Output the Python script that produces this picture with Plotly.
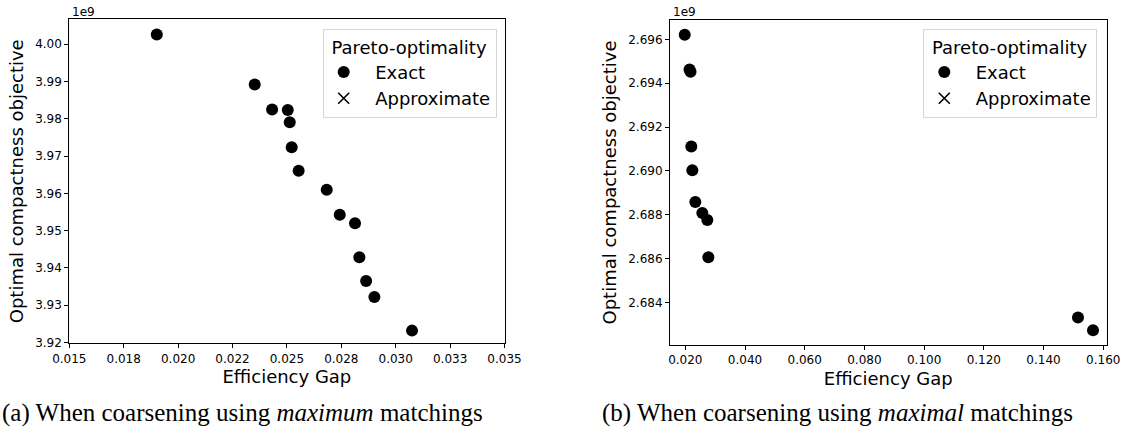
import plotly.graph_objects as go

# ---------------- data ----------------
# (a) maximum matchings
a_gap = [0.01902, 0.02352, 0.02432, 0.02504, 0.02513, 0.02522, 0.02554,
         0.02683, 0.02743, 0.02813, 0.02833, 0.02864, 0.02902, 0.03075]
a_obj = [4.0026e9, 3.9892e9, 3.9825e9, 3.9824e9, 3.9791e9, 3.9724e9, 3.9661e9,
         3.9610e9, 3.9543e9, 3.9520e9, 3.9429e9, 3.9365e9, 3.9322e9, 3.9232e9]
a_approx_gap = []
a_approx_obj = []

# (b) maximal matchings
b_gap = [0.01980, 0.02141, 0.02175, 0.02201, 0.02235, 0.02336, 0.02570,
         0.02738, 0.02772, 0.15155, 0.15658]
b_obj = [2.69621e9, 2.69462e9, 2.69452e9, 2.69112e9, 2.69003e9, 2.68859e9,
         2.68809e9, 2.68777e9, 2.68607e9, 2.68332e9, 2.68274e9]
b_approx_gap = []
b_approx_obj = []

a_xticks = [0.015, 0.0175, 0.020, 0.0225, 0.025, 0.0275, 0.030, 0.0325, 0.035]
a_xtext = ["0.015", "0.018", "0.020", "0.022", "0.025", "0.028", "0.030", "0.033", "0.035"]
a_yticks = [3.92e9, 3.93e9, 3.94e9, 3.95e9, 3.96e9, 3.97e9, 3.98e9, 3.99e9, 4.00e9]
a_ytext = ["3.92", "3.93", "3.94", "3.95", "3.96", "3.97", "3.98", "3.99", "4.00"]

b_xticks = [0.02, 0.04, 0.06, 0.08, 0.10, 0.12, 0.14, 0.16]
b_xtext = ["0.020", "0.040", "0.060", "0.080", "0.100", "0.120", "0.140", "0.160"]
b_yticks = [2.684e9, 2.686e9, 2.688e9, 2.690e9, 2.692e9, 2.694e9, 2.696e9]
b_ytext = ["2.684", "2.686", "2.688", "2.690", "2.692", "2.694", "2.696"]

legend_title = "Pareto-optimality"
series_names = ["Exact", "Approximate"]
captions = ["(a) When coarsening using <i>maximum</i> matchings",
            "(b) When coarsening using <i>maximal</i> matchings"]

# ---------------- figure ----------------
W, H = 1123, 429
SANS = "DejaVu Sans"
SERIF = "Liberation Serif"
NB = "\u00a0"

def px_x(p):
    return p / W

def px_y(p):
    return 1 - p / H

fig = go.Figure()

def add_panel(xs, ys, axs, ays, xa, ya, legend):
    fig.add_trace(go.Scatter(
        x=xs, y=ys, mode="markers", name=NB * 2 + series_names[0],
        xaxis=xa, yaxis=ya, legend=legend,
        marker=dict(symbol="circle", size=12, color="black", line=dict(width=0)),
    ))
    fig.add_trace(go.Scatter(
        x=axs if axs else [None], y=ays if ays else [None], mode="markers",
        name=NB * 2 + series_names[1], xaxis=xa, yaxis=ya, legend=legend,
        marker=dict(symbol="x-thin-open", size=11, color="black",
                    line=dict(width=1.6, color="black")),
    ))

add_panel(a_gap, a_obj, a_approx_gap, a_approx_obj, "x", "y", "legend")
add_panel(b_gap, b_obj, b_approx_gap, b_approx_obj, "x2", "y2", "legend2")

axis_common = dict(
    showgrid=False, zeroline=False, showline=True, linecolor="black",
    linewidth=1, mirror=True, ticks="outside", ticklen=4, tickwidth=1,
    tickcolor="black", tickfont=dict(family=SANS, size=12, color="black"),
    automargin=False, tickmode="array",
)

def legend_style(xpx, ypx):
    return dict(x=px_x(xpx), y=px_y(ypx), xanchor="right", yanchor="top",
                title=dict(text=NB + legend_title, side="top",
                           font=dict(family=SANS, size=18, color="black")),
                font=dict(family=SANS, size=18, color="black"),
                bgcolor="rgba(255,255,255,0.8)", bordercolor="#d6d6d6",
                borderwidth=1, itemsizing="trace")

fig.update_layout(
    width=W, height=H,
    margin=dict(l=0, r=0, t=0, b=0),
    paper_bgcolor="white", plot_bgcolor="white",
    xaxis=dict(domain=[px_x(69.3), px_x(504.5)], range=[0.015, 0.035],
               tickvals=a_xticks, ticktext=a_xtext,
               title=dict(text="Efficiency Gap", standoff=5,
                          font=dict(family=SANS, size=18, color="black")),
               anchor="y", **axis_common),
    yaxis=dict(domain=[px_y(343.3), px_y(19.3)], range=[3.9198e9, 4.0067e9],
               tickvals=a_yticks, ticktext=a_ytext,
               title=dict(text="Optimal compactness objective", standoff=6,
                          font=dict(family=SANS, size=18, color="black")),
               anchor="x", **axis_common),
    xaxis2=dict(domain=[px_x(670), px_x(1106.5)], range=[0.01487, 0.1611],
                tickvals=b_xticks, ticktext=b_xtext,
                title=dict(text="Efficiency Gap", standoff=5,
                           font=dict(family=SANS, size=18, color="black")),
                anchor="y2", **axis_common),
    yaxis2=dict(domain=[px_y(345), px_y(20)], range=[2.68207e9, 2.69688e9],
                tickvals=b_yticks, ticktext=b_ytext,
                title=dict(text="Optimal compactness objective", standoff=6,
                           font=dict(family=SANS, size=18, color="black")),
                anchor="x2", **axis_common),
    legend=legend_style(496.7, 29.3),
    legend2=legend_style(1097.3, 29.3),
    showlegend=True,
)

# offset labels "1e9"
for xpx, ypx in [(69.5, 12.5), (671, 12.5)]:
    fig.add_annotation(text="1e9", x=px_x(xpx), y=px_y(ypx), xref="paper",
                       yref="paper", xanchor="left", yanchor="middle",
                       showarrow=False,
                       font=dict(family=SANS, size=12, color="black"))

# captions
for text, xpx in zip(captions, [0, 600]):
    fig.add_annotation(text=text, x=px_x(xpx), y=px_y(413), xref="paper",
                       yref="paper", xanchor="left", yanchor="middle",
                       showarrow=False,
                       font=dict(family=SERIF, size=25, color="black"))

fig.write_html("out.html",
               config={"displayModeBar": False},
               post_script="document.body.style.margin='0px';"
                           "document.body.style.overflow='hidden';")
